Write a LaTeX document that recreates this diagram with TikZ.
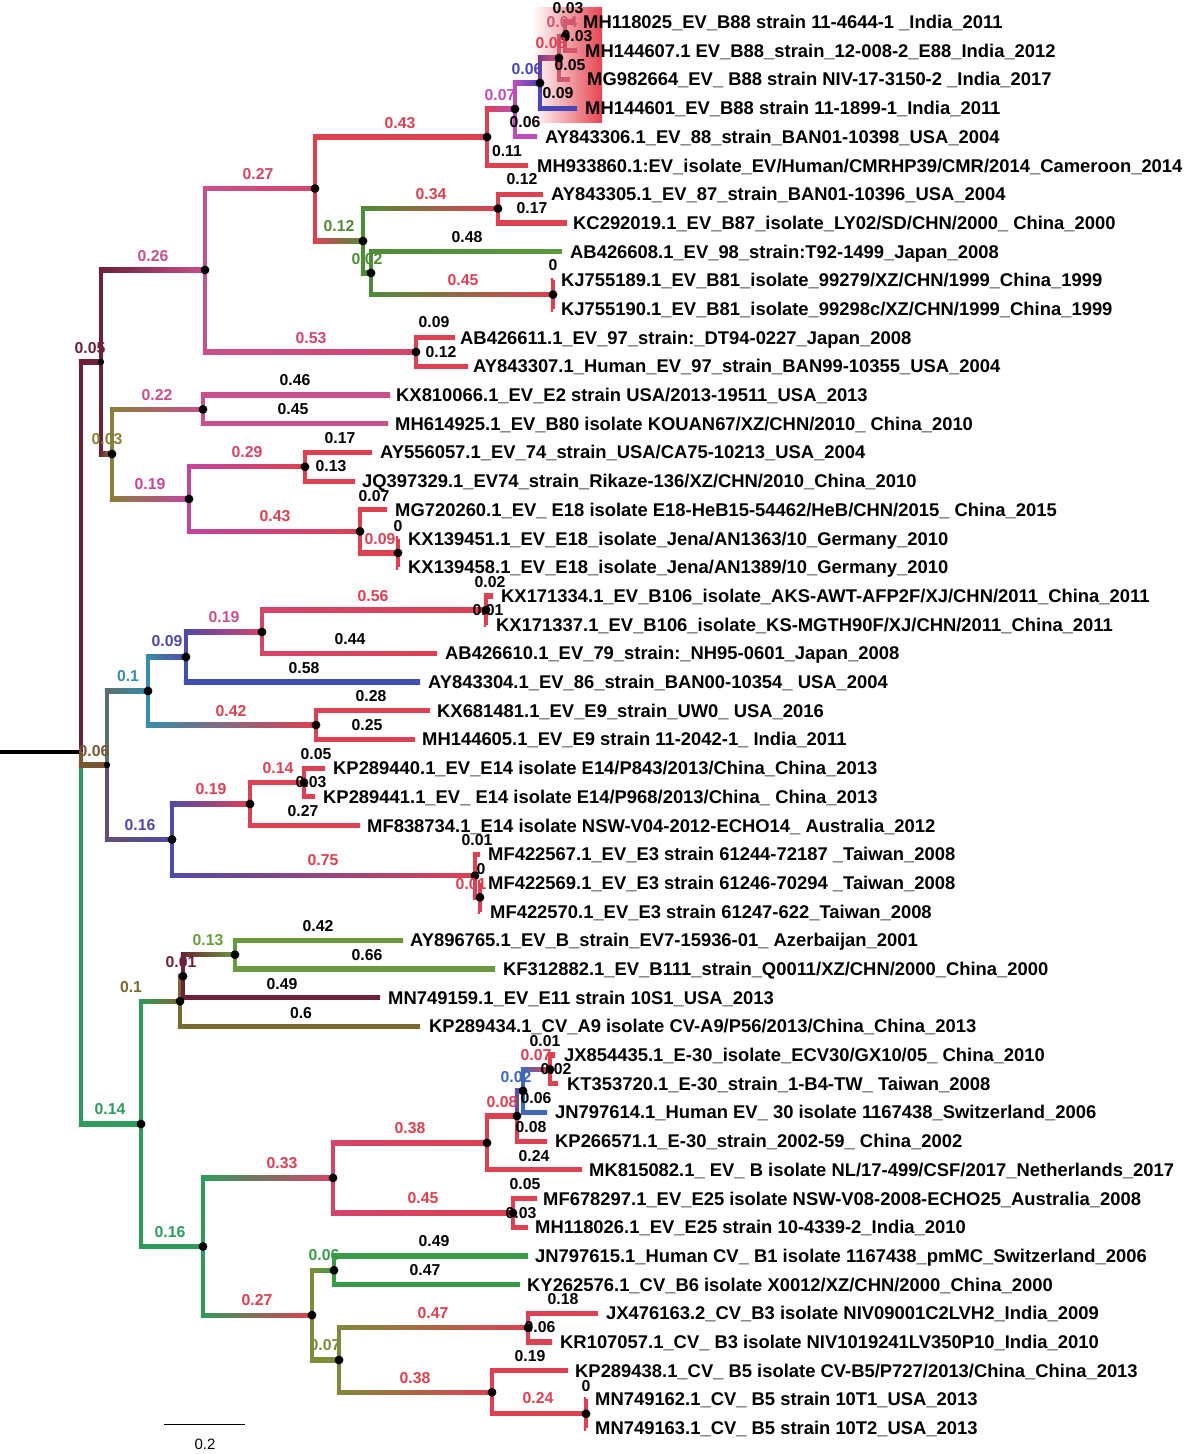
\documentclass[tikz,border=0pt]{standalone}
\usepackage{fontspec}
\setmainfont{Liberation Sans}
\usetikzlibrary{calc}
\definecolor{cMar}{HTML}{6B2136}
\definecolor{cBrn}{HTML}{7A5532}
\definecolor{cGrR}{HTML}{2E9A5C}
\definecolor{cPnk}{HTML}{C8508C}
\definecolor{cOlA}{HTML}{8A7F3A}
\definecolor{cRed}{HTML}{DC4152}
\definecolor{cRdP}{HTML}{D4456A}
\definecolor{cRdL}{HTML}{D25870}
\definecolor{cGr1}{HTML}{4E8C3A}
\definecolor{cGr9}{HTML}{5C9A40}
\definecolor{cMg2}{HTML}{C04CBC}
\definecolor{cBl2}{HTML}{4646B8}
\definecolor{cPur}{HTML}{7A3A8A}
\definecolor{cMag}{HTML}{C0469E}
\definecolor{cTea}{HTML}{3A8CA8}
\definecolor{cBlu}{HTML}{4F4AA8}
\definecolor{cBl4}{HTML}{4050B0}
\definecolor{cOlv}{HTML}{7A6A32}
\definecolor{cLgr}{HTML}{6A9A3E}
\definecolor{cGr3}{HTML}{3A9A48}
\definecolor{cBl3}{HTML}{4068B8}
\definecolor{cOl2}{HTML}{808A3A}
\definecolor{cHl}{HTML}{E64552}
\colorlet{cBT}{cBrn!50!cTea}
\colorlet{cBB}{cBrn!50!cBlu}
\colorlet{cPB}{cPur!60!cBl3}
\newcommand\tbr[4]{%
  \draw[line width=4.2pt,#3] (#1) -- (#1 |- #2);
  \shade[left color=#3,right color=#4] ($(#1 |- #2)+(-2.1,-2.1)$) rectangle ($(#2)+(0,2.1)$);
}
\begin{document}
\begin{tikzpicture}[x=1pt,y=-1pt,
  leaf/.style={anchor=west,inner sep=0pt,text height=13pt,text depth=0pt,font=\bfseries\fontsize{18.4}{19}\selectfont},
  lab/.style={inner sep=0pt,text height=11.3pt,text depth=0pt,font=\bfseries\fontsize{15.8}{16}\selectfont}]
\useasboundingbox[fill=white] (0,0) rectangle (1185,1454);
% highlight
\shade[left color=white,right color=cHl] (532,7) rectangle (602,122);
% internal nodes
\coordinate (R) at (81,752);
\coordinate (root0) at (0,752);
\coordinate (A) at (101,362);
\coordinate (B) at (107,765);
\coordinate (C) at (141,1124);
\coordinate (A1) at (205,270);
\coordinate (A2) at (112,454);
\coordinate (A1a) at (315,188.5);
\coordinate (A1b) at (416,352);
\coordinate (N487) at (487,137);
\coordinate (N515) at (515,109);
\coordinate (N540) at (540,83);
\coordinate (N559) at (559,58);
\coordinate (N565) at (565,36.4);
\coordinate (N363) at (363,241);
\coordinate (N498) at (498,208.6);
\coordinate (N371) at (371,273);
\coordinate (N553) at (553,294.6);
\coordinate (N203) at (203,409.4);
\coordinate (N189) at (189,499);
\coordinate (N305) at (305,466.8);
\coordinate (N360) at (360,531.4);
\coordinate (N398) at (398,552.9);
\coordinate (B1) at (148,691);
\coordinate (N186) at (186,657);
\coordinate (N262) at (262,632);
\coordinate (N486) at (486,610);
\coordinate (N316) at (316,725);
\coordinate (B2) at (172,839.5);
\coordinate (N250) at (250,804);
\coordinate (N304) at (304,782.5);
\coordinate (N475) at (475,875.7);
\coordinate (N480) at (480,897.3);
\coordinate (C1) at (180,1001.3);
\coordinate (N183) at (183,976.2);
\coordinate (N235) at (235,954.7);
\coordinate (C2) at (203,1246.5);
\coordinate (N333) at (333,1177.9);
\coordinate (Nb487) at (487,1142.9);
\coordinate (N517) at (517,1116);
\coordinate (N523) at (523,1090.9);
\coordinate (N550) at (550,1069.4);
\coordinate (N513) at (513,1212.9);
\coordinate (N312) at (312,1315.1);
\coordinate (N334) at (334,1270.3);
\coordinate (N339) at (339,1360);
\coordinate (N528) at (528,1327.7);
\coordinate (N492) at (492,1392.3);
\coordinate (N586) at (586,1413.8);
% leaf ends
\coordinate (e1) at (575,22.0);
\coordinate (e2) at (577,50.7);
\coordinate (e3) at (570,79.4);
\coordinate (e4) at (577,108.1);
\coordinate (e5) at (537,136.8);
\coordinate (e6) at (528,165.5);
\coordinate (e7) at (543,194.2);
\coordinate (e8) at (567,222.9);
\coordinate (e9) at (562,251.6);
\coordinate (e10) at (553,280.2);
\coordinate (e11) at (553,308.9);
\coordinate (e12) at (455,337.6);
\coordinate (e13) at (468,366.3);
\coordinate (e14) at (390,395.0);
\coordinate (e15) at (388,423.7);
\coordinate (e16) at (372,452.4);
\coordinate (e17) at (355,481.1);
\coordinate (e18) at (387,509.8);
\coordinate (e19) at (398,538.5);
\coordinate (e20) at (398,567.2);
\coordinate (e21) at (493,595.9);
\coordinate (e22) at (486,624.6);
\coordinate (e23) at (437,653.3);
\coordinate (e24) at (420,682.0);
\coordinate (e25) at (430,710.7);
\coordinate (e26) at (415,739.4);
\coordinate (e27) at (325,768.1);
\coordinate (e28) at (315,796.8);
\coordinate (e29) at (360,825.5);
\coordinate (e30) at (480,854.2);
\coordinate (e31) at (480,882.9);
\coordinate (e32) at (480,911.6);
\coordinate (e33) at (403,940.3);
\coordinate (e34) at (495,969.0);
\coordinate (e35) at (380,997.7);
\coordinate (e36) at (420,1026.4);
\coordinate (e37) at (555,1055.0);
\coordinate (e38) at (558,1083.7);
\coordinate (e39) at (547,1112.4);
\coordinate (e40) at (547,1141.1);
\coordinate (e41) at (582,1169.8);
\coordinate (e42) at (537,1198.5);
\coordinate (e43) at (528,1227.2);
\coordinate (e44) at (528,1255.9);
\coordinate (e45) at (520,1284.6);
\coordinate (e46) at (598,1313.3);
\coordinate (e47) at (552,1342.0);
\coordinate (e48) at (568,1370.7);
\coordinate (e49) at (586,1399.4);
\coordinate (e50) at (586,1428.1);
% root
\draw[line width=4.5pt,black] (root0) -- (R);
% branches
\tbr{R}{A}{cMar}{cMar}
\tbr{R}{C}{cGrR}{cGrR}
\tbr{R}{B}{cBrn}{cBrn}
\tbr{A}{A1}{cMar}{cPnk}
\tbr{A}{A2}{cMar}{cOlA}
\tbr{A1}{A1a}{cPnk}{cRdP}
\tbr{A1}{A1b}{cPnk}{cRdP}
\tbr{A1a}{N487}{cRed}{cRed}
\tbr{A1a}{N363}{cRed}{cGr1}
\tbr{N487}{N515}{cRed}{cMg2}
\tbr{N487}{e6}{cRed}{cRed}
\tbr{N515}{N540}{cMg2}{cBl2}
\tbr{N515}{e5}{cMg2}{cMg2}
\tbr{N540}{N559}{cPur}{cRdL}
\tbr{N540}{e4}{cBl2}{cBl2}
\tbr{N559}{N565}{cRdL}{cRdL}
\tbr{N559}{e3}{cRdL}{cRdL}
\tbr{N565}{e1}{cRdL}{cRdL}
\tbr{N565}{e2}{cRdL}{cRdL}
\tbr{N363}{N498}{cGr1}{cRed}
\tbr{N363}{N371}{cGr1}{cGr1}
\tbr{N498}{e7}{cRed}{cRed}
\tbr{N498}{e8}{cRed}{cRed}
\tbr{N371}{e9}{cGr1}{cGr9}
\tbr{N371}{N553}{cGr1}{cRed}
\tbr{N553}{e10}{cRed}{cRed}
\tbr{N553}{e11}{cRed}{cRed}
\tbr{A1b}{e12}{cRed}{cRed}
\tbr{A1b}{e13}{cRed}{cRed}
\tbr{A2}{N203}{cOlA}{cPnk}
\tbr{A2}{N189}{cOlA}{cMag}
\tbr{N203}{e14}{cPnk}{cPnk}
\tbr{N203}{e15}{cPnk}{cPnk}
\tbr{N189}{N305}{cMag}{cRed}
\tbr{N189}{N360}{cMag}{cRed}
\tbr{N305}{e16}{cRed}{cRed}
\tbr{N305}{e17}{cRed}{cRed}
\tbr{N360}{e18}{cRed}{cRed}
\tbr{N360}{N398}{cRed}{cRed}
\tbr{N398}{e19}{cRed}{cRed}
\tbr{N398}{e20}{cRed}{cRed}
\tbr{B}{B1}{cBT}{cTea}
\tbr{B}{B2}{cBB}{cBlu}
\tbr{B1}{N186}{cTea}{cBlu}
\tbr{B1}{N316}{cTea}{cRed}
\tbr{N186}{N262}{cBlu}{cRdP}
\tbr{N186}{e24}{cBl4}{cBl4}
\tbr{N262}{N486}{cRdP}{cRed}
\tbr{N262}{e23}{cRdP}{cRed}
\tbr{N486}{e21}{cRed}{cRed}
\tbr{N486}{e22}{cRed}{cRed}
\tbr{N316}{e25}{cRed}{cRed}
\tbr{N316}{e26}{cRed}{cRed}
\tbr{B2}{N250}{cBlu}{cRed}
\tbr{B2}{N475}{cBlu}{cRed}
\tbr{N250}{N304}{cRed}{cRed}
\tbr{N250}{e29}{cRed}{cRed}
\tbr{N304}{e27}{cRed}{cRed}
\tbr{N304}{e28}{cRed}{cRed}
\tbr{N475}{e30}{cRed}{cRed}
\tbr{N475}{N480}{cRed}{cRed}
\tbr{N480}{e31}{cRed}{cRed}
\tbr{N480}{e32}{cRed}{cRed}
\tbr{C}{C1}{cGrR}{cOlv}
\tbr{C}{C2}{cGrR}{cGrR}
\tbr{C1}{N183}{cOlv}{cMar}
\tbr{C1}{e36}{cOlv}{cOlv}
\tbr{N183}{N235}{cMar}{cLgr}
\tbr{N183}{e35}{cMar}{cMar}
\tbr{N235}{e33}{cLgr}{cLgr}
\tbr{N235}{e34}{cLgr}{cLgr}
\tbr{C2}{N333}{cGrR}{cRdP}
\tbr{C2}{N312}{cGrR}{cRed}
\tbr{N333}{Nb487}{cRdP}{cRed}
\tbr{N333}{N513}{cRdP}{cRed}
\tbr{Nb487}{N517}{cRed}{cRed}
\tbr{Nb487}{e41}{cRed}{cRed}
\tbr{N517}{N523}{cPB}{cBl3}
\tbr{N517}{e40}{cRed}{cRed}
\tbr{N523}{N550}{cBl3}{cRed}
\tbr{N523}{e39}{cBl3}{cBl3}
\tbr{N550}{e37}{cRed}{cRed}
\tbr{N550}{e38}{cRed}{cRed}
\tbr{N513}{e42}{cRed}{cRed}
\tbr{N513}{e43}{cRed}{cRed}
\tbr{N312}{N334}{cOl2}{cGr3}
\tbr{N312}{N339}{cOl2}{cOl2}
\tbr{N334}{e44}{cGr3}{cGr3}
\tbr{N334}{e45}{cGr3}{cGr3}
\tbr{N339}{N528}{cOl2}{cRed}
\tbr{N339}{N492}{cOl2}{cRed}
\tbr{N528}{e46}{cRed}{cRed}
\tbr{N528}{e47}{cRed}{cRed}
\tbr{N492}{e48}{cRed}{cRed}
\tbr{N492}{N586}{cRed}{cRed}
\tbr{N586}{e49}{cRed}{cRed}
\tbr{N586}{e50}{cRed}{cRed}
% dots
\foreach \n in {A,B}{\fill (\n) circle[radius=3.2pt];}
\foreach \n in {C,A1,A2,A1a,A1b,N487,N515,N540,N559,N565,N363,N498,N371,N553,N203,N189,N305,N360,N398,B1,N186,N262,N486,N316,B2,N250,N304,N475,N480,C1,N183,N235,C2,N333,Nb487,N517,N523,N550,N513,N312,N334,N339,N528,N492,N586}{\fill (\n) circle[radius=4.4pt];}
% branch labels
\node[lab] at (568,8) {0.03};
\node[lab,cRdL] at (562,22) {0.04};
\node[lab] at (577,36) {0.03};
\node[lab,cRed] at (551,43) {0.08};
\node[lab] at (570,65) {0.05};
\node[lab,cBl2] at (527,69) {0.06};
\node[lab] at (558,93) {0.09};
\node[lab,cMg2] at (500,95) {0.07};
\node[lab] at (525,122) {0.06};
\node[lab] at (507,151) {0.11};
\node[lab,cRed] at (400,123) {0.43};
\node[lab,cRdP] at (258,174) {0.27};
\node[lab,cPnk] at (153,256) {0.26};
\node[lab,cMar] at (90,348) {0.05};
\node[lab] at (522,179) {0.12};
\node[lab,cRed] at (431,194) {0.34};
\node[lab] at (532,208) {0.17};
\node[lab,cGr1] at (339,226) {0.12};
\node[lab] at (467,237) {0.48};
\node[lab,cGr1] at (367,259) {0.02};
\node[lab] at (553,265) {0};
\node[lab,cRed] at (463,280) {0.45};
\node[lab] at (434,322) {0.09};
\node[lab,cRdP] at (311,338) {0.53};
\node[lab] at (441,352) {0.12};
\node[lab] at (295,380) {0.46};
\node[lab,cPnk] at (157,395) {0.22};
\node[lab] at (293,409) {0.45};
\node[lab,cOlA] at (107,439) {0.03};
\node[lab] at (340,438) {0.17};
\node[lab,cRdP] at (247,452) {0.29};
\node[lab] at (331,466) {0.13};
\node[lab,cMag] at (150,484) {0.19};
\node[lab] at (374,496) {0.07};
\node[lab,cRed] at (275,516) {0.43};
\node[lab] at (398,526) {0};
\node[lab,cRed] at (380,539) {0.09};
\node[lab] at (490,582) {0.02};
\node[lab,cRed] at (373,596) {0.56};
\node[lab] at (488,610) {0.01};
\node[lab,cPnk] at (224,617) {0.19};
\node[lab] at (350,639) {0.44};
\node[lab,cBlu] at (167,641) {0.09};
\node[lab] at (304,668) {0.58};
\node[lab,cTea] at (128,676) {0.1};
\node[lab] at (371,696) {0.28};
\node[lab,cRed] at (231,711) {0.42};
\node[lab] at (367,725) {0.25};
\node[lab,cBrn] at (94,751) {0.06};
\node[lab] at (316,754) {0.05};
\node[lab,cRed] at (278,768) {0.14};
\node[lab] at (311,782) {0.03};
\node[lab,cRed] at (211,789) {0.19};
\node[lab] at (303,811) {0.27};
\node[lab,cBlu] at (140,825) {0.16};
\node[lab] at (477,840) {0.01};
\node[lab,cRed] at (323,860) {0.75};
\node[lab] at (481,869) {0};
\node[lab,cRed] at (471,884) {0.01};
\node[lab] at (318,926) {0.42};
\node[lab,cLgr] at (208,940) {0.13};
\node[lab,cMar] at (181,962) {0.01};
\node[lab] at (367,955) {0.66};
\node[lab,cOlv] at (131,987) {0.1};
\node[lab] at (282,984) {0.49};
\node[lab] at (301,1013) {0.6};
\node[lab] at (545,1041) {0.01};
\node[lab,cRed] at (536,1055) {0.07};
\node[lab] at (556,1069) {0.02};
\node[lab,cBl3] at (516,1077) {0.02};
\node[lab] at (536,1098) {0.06};
\node[lab,cRed] at (502,1102) {0.08};
\node[lab] at (531,1127) {0.08};
\node[lab,cRed] at (410,1128) {0.38};
\node[lab] at (534,1156) {0.24};
\node[lab,cGrR] at (110,1109) {0.14};
\node[lab,cRed] at (282,1163) {0.33};
\node[lab] at (525,1184) {0.05};
\node[lab,cRed] at (423,1198) {0.45};
\node[lab] at (521,1213) {0.03};
\node[lab,cGrR] at (170,1232) {0.16};
\node[lab,cGr3] at (324,1255) {0.06};
\node[lab] at (434,1241) {0.49};
\node[lab] at (425,1270) {0.47};
\node[lab,cRed] at (257,1300) {0.27};
\node[lab] at (563,1299) {0.18};
\node[lab,cRed] at (433,1313) {0.47};
\node[lab] at (540,1327) {0.06};
\node[lab,cOl2] at (325,1345) {0.07};
\node[lab] at (530,1356) {0.19};
\node[lab,cRed] at (415,1378) {0.38};
\node[lab] at (586,1386) {0};
\node[lab,cRed] at (538,1398) {0.24};
% leaf names
\node[leaf] (t1) at (583,22.0) {MH118025\_EV\_B88 strain 11-4644-1 \_India\_2011};
\node[leaf] (t2) at (585,50.7) {MH144607.1 EV\_B88\_strain\_12-008-2\_E88\_India\_2012};
\node[leaf] (t3) at (587,79.4) {MG982664\_EV\_ B88 strain NIV-17-3150-2 \_India\_2017};
\node[leaf] (t4) at (585,108.1) {MH144601\_EV\_B88 strain 11-1899-1\_India\_2011};
\node[leaf] (t5) at (545,136.8) {AY843306.1\_EV\_88\_strain\_BAN01-10398\_USA\_2004};
\node[leaf] (t6) at (537,165.5) {MH933860.1:EV\_isolate\_EV/Human/CMRHP39/CMR/2014\_Cameroon\_2014};
\node[leaf] (t7) at (551,194.2) {AY843305.1\_EV\_87\_strain\_BAN01-10396\_USA\_2004};
\node[leaf] (t8) at (573,222.9) {KC292019.1\_EV\_B87\_isolate\_LY02/SD/CHN/2000\_ China\_2000};
\node[leaf] (t9) at (570,251.6) {AB426608.1\_EV\_98\_strain:T92-1499\_Japan\_2008};
\node[leaf] (t10) at (561,280.2) {KJ755189.1\_EV\_B81\_isolate\_99279/XZ/CHN/1999\_China\_1999};
\node[leaf] (t11) at (561,308.9) {KJ755190.1\_EV\_B81\_isolate\_99298c/XZ/CHN/1999\_China\_1999};
\node[leaf] (t12) at (460,337.6) {AB426611.1\_EV\_97\_strain:\_DT94-0227\_Japan\_2008};
\node[leaf] (t13) at (473,366.3) {AY843307.1\_Human\_EV\_97\_strain\_BAN99-10355\_USA\_2004};
\node[leaf] (t14) at (396,395.0) {KX810066.1\_EV\_E2 strain USA/2013-19511\_USA\_2013};
\node[leaf] (t15) at (395,423.7) {MH614925.1\_EV\_B80 isolate KOUAN67/XZ/CHN/2010\_ China\_2010};
\node[leaf] (t16) at (380,452.4) {AY556057.1\_EV\_74\_strain\_USA/CA75-10213\_USA\_2004};
\node[leaf] (t17) at (362,481.1) {JQ397329.1\_EV74\_strain\_Rikaze-136/XZ/CHN/2010\_China\_2010};
\node[leaf] (t18) at (395,509.8) {MG720260.1\_EV\_ E18 isolate E18-HeB15-54462/HeB/CHN/2015\_ China\_2015};
\node[leaf] (t19) at (408,538.5) {KX139451.1\_EV\_E18\_isolate\_Jena/AN1363/10\_Germany\_2010};
\node[leaf] (t20) at (408,567.2) {KX139458.1\_EV\_E18\_isolate\_Jena/AN1389/10\_Germany\_2010};
\node[leaf] (t21) at (501,595.9) {KX171334.1\_EV\_B106\_isolate\_AKS-AWT-AFP2F/XJ/CHN/2011\_China\_2011};
\node[leaf] (t22) at (496,624.6) {KX171337.1\_EV\_B106\_isolate\_KS-MGTH90F/XJ/CHN/2011\_China\_2011};
\node[leaf] (t23) at (445,653.3) {AB426610.1\_EV\_79\_strain:\_NH95-0601\_Japan\_2008};
\node[leaf] (t24) at (428,682.0) {AY843304.1\_EV\_86\_strain\_BAN00-10354\_ USA\_2004};
\node[leaf] (t25) at (437,710.7) {KX681481.1\_EV\_E9\_strain\_UW0\_ USA\_2016};
\node[leaf] (t26) at (422,739.4) {MH144605.1\_EV\_E9 strain 11-2042-1\_ India\_2011};
\node[leaf] (t27) at (333,768.1) {KP289440.1\_EV\_E14 isolate E14/P843/2013/China\_China\_2013};
\node[leaf] (t28) at (323,796.8) {KP289441.1\_EV\_ E14 isolate E14/P968/2013/China\_ China\_2013};
\node[leaf] (t29) at (367,825.5) {MF838734.1\_E14 isolate NSW-V04-2012-ECHO14\_ Australia\_2012};
\node[leaf] (t30) at (488,854.2) {MF422567.1\_EV\_E3 strain 61244-72187 \_Taiwan\_2008};
\node[leaf] (t31) at (488,882.9) {MF422569.1\_EV\_E3 strain 61246-70294 \_Taiwan\_2008};
\node[leaf] (t32) at (490,911.6) {MF422570.1\_EV\_E3 strain 61247-622\_Taiwan\_2008};
\node[leaf] (t33) at (410,940.3) {AY896765.1\_EV\_B\_strain\_EV7-15936-01\_ Azerbaijan\_2001};
\node[leaf] (t34) at (503,969.0) {KF312882.1\_EV\_B111\_strain\_Q0011/XZ/CHN/2000\_China\_2000};
\node[leaf] (t35) at (388,997.7) {MN749159.1\_EV\_E11 strain 10S1\_USA\_2013};
\node[leaf] (t36) at (429,1026.4) {KP289434.1\_CV\_A9 isolate CV-A9/P56/2013/China\_China\_2013};
\node[leaf] (t37) at (564,1055.0) {JX854435.1\_E-30\_isolate\_ECV30/GX10/05\_ China\_2010};
\node[leaf] (t38) at (567,1083.7) {KT353720.1\_E-30\_strain\_1-B4-TW\_ Taiwan\_2008};
\node[leaf] (t39) at (555,1112.4) {JN797614.1\_Human EV\_ 30 isolate 1167438\_Switzerland\_2006};
\node[leaf] (t40) at (555,1141.1) {KP266571.1\_E-30\_strain\_2002-59\_ China\_2002};
\node[leaf] (t41) at (589,1169.8) {MK815082.1\_ EV\_ B isolate NL/17-499/CSF/2017\_Netherlands\_2017};
\node[leaf] (t42) at (543,1198.5) {MF678297.1\_EV\_E25 isolate NSW-V08-2008-ECHO25\_Australia\_2008};
\node[leaf] (t43) at (535,1227.2) {MH118026.1\_EV\_E25 strain 10-4339-2\_India\_2010};
\node[leaf] (t44) at (535,1255.9) {JN797615.1\_Human CV\_ B1 isolate 1167438\_pmMC\_Switzerland\_2006};
\node[leaf] (t45) at (527,1284.6) {KY262576.1\_CV\_B6 isolate X0012/XZ/CHN/2000\_China\_2000};
\node[leaf] (t46) at (606,1313.3) {JX476163.2\_CV\_B3 isolate NIV09001C2LVH2\_India\_2009};
\node[leaf] (t47) at (560,1342.0) {KR107057.1\_CV\_ B3 isolate NIV1019241LV350P10\_India\_2010};
\node[leaf] (t48) at (575,1370.7) {KP289438.1\_CV\_ B5 isolate CV-B5/P727/2013/China\_China\_2013};
\node[leaf] (t49) at (595,1399.4) {MN749162.1\_CV\_ B5 strain 10T1\_USA\_2013};
\node[leaf] (t50) at (595,1428.1) {MN749163.1\_CV\_ B5 strain 10T2\_USA\_2013};
% scale bar
\coordinate (sb1) at (164,1424);
\coordinate (sb2) at (245,1424);
\draw[line width=1pt] (sb1) -- (sb2);
\node[inner sep=0pt,font=\fontsize{15}{16}\selectfont] (sbl) at (205,1444) {0.2};
\end{tikzpicture}
\end{document}
